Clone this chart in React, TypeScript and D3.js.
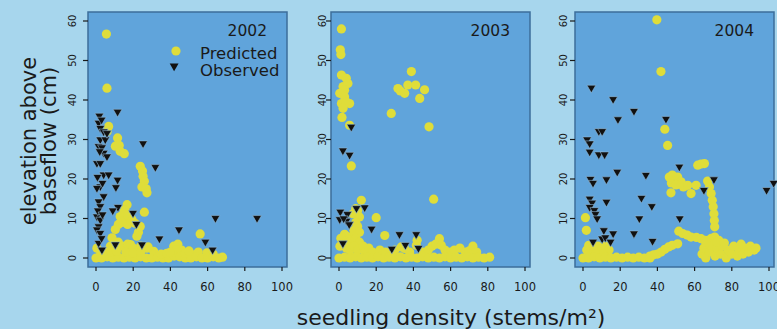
import React from "react";
import * as d3 from "d3";

type P = [number, number];

const W = 777;
const H = 329;

const years = ["2002", "2003", "2004"];
const xTicks = [0, 20, 40, 60, 80, 100];
const yTicks = [0, 10, 20, 30, 40, 50, 60];
const legendLabels = ["Predicted", "Observed"];
const xTitle = "seedling density (stems/m²)";
const yTitle = ["elevation above", "baseflow (cm)"];

const pred2002: P[] = [
  [5.6, 56.7], [5.9, 43], [6.8, 33.3], [6, 32],
  [11.6, 30.4], [10.4, 28.3], [12.5, 28.5], [13, 27], [15.2, 26.4],
  [23.8, 23.2], [25, 22], [25.3, 20.7], [26, 19.4], [24.7, 18], [27, 17.5], [27.4, 16.5],
  [26, 11.6],
  [16.7, 13.5], [15.5, 12.2], [13, 10.5], [15, 11.5], [17, 10.5], [19.4, 9.7], [17, 8.5], [21, 8.8],
  [23.8, 8], [22.8, 6.5], [22, 5.5], [14, 9], [12, 8.5], [10.4, 7.2], [8.6, 5.1], [7.7, 3], [10, 4],
  [12, 4], [14, 3], [17, 3.5], [18.5, 3.4], [20, 2.5], [24, 3], [27.4, 2.5], [31, 1.7], [28, 2.8],
  [0.5, 2.5], [2.5, 1], [5, 1.5],
  [56, 6.1], [41.8, 3], [44, 3.5], [46, 2], [43, 2], [52, 0.8], [55, 1.5], [59.7, 1.3], [63, 1],
  [0, 0], [3, 0], [6, 0.3], [9, 0], [12, 0.2], [15, 0], [18, 0.2], [21, 0], [24, 0.3], [27, 0],
  [30, 0], [33, 0.2], [36, 0], [39, 0], [42, 0.5], [45, 0.3], [48, 0], [51, 0], [54, 0.3], [57, 0],
  [60, 0], [63, 0.3], [66, 0], [68, 0.2],
  [8, 1.5], [11, 1.8], [16, 1.5], [20, 1.2], [24, 1.5], [35, 1], [38, 1.2], [40, 1.5], [48, 1.2], [50, 1.8],
];

const obs2002: P[] = [
  [1.8, 36], [1.4, 34.2], [2.3, 32.9], [4.1, 32], [2.3, 30], [5, 30], [1.4, 28.3], [4.1, 26.6],
  [5.9, 25.7], [0.5, 24], [2.3, 24], [4.1, 21.1], [6.8, 21.1], [2.3, 18.1], [0.5, 17.7], [4.1, 15.6],
  [1.4, 14.3], [2.3, 13.1], [0.5, 10.5], [2.3, 9.7], [1.4, 8], [0.5, 7.2], [2.3, 6.3], [1.4, 3.8],
  [3.2, 2.1], [3.2, 28], [0.8, 20.5], [3.5, 19], [1, 12], [3.5, 11], [3, 5], [2, 27], [3, 35],
  [11.6, 37], [5.9, 31.6], [25.3, 29], [31.9, 23], [11.6, 19.8], [10.7, 17.9], [11.8, 12.9], [9, 12],
  [19.9, 11.4], [21.7, 8.6], [44.6, 7.2], [34.1, 4.9], [58.8, 4.1], [62.7, 2.1], [64.2, 10.1],
  [86.6, 10.1], [10.4, 3.4], [24.7, 3.4],
];

const pred2003: P[] = [
  [1.3, 58], [0.7, 52.7], [1, 51.5], [1.3, 46.3], [3.9, 45.5], [2.2, 43.4], [4.8, 44.2], [3, 42.5],
  [0.4, 41.7], [3, 40.8], [1.3, 39.1], [5.7, 39.1], [4, 39.5], [2.2, 37.9], [1.6, 35.6], [5.7, 33.6],
  [6.6, 23.3],
  [38.9, 47.2], [31.7, 42.9], [33, 42.3], [35.3, 41.7], [37, 43.8], [41.2, 43.8], [46, 42.6], [43.4, 40.4],
  [28.1, 36.6], [48.4, 33.2], [50.9, 14.9],
  [12, 14.6], [9, 12.5], [7.5, 11.2], [11, 10.4], [10, 12], [9, 9], [10, 8], [8, 7], [11, 6.5], [7, 5.5],
  [9, 5], [11, 4], [6, 4], [4, 5.5], [3, 6], [1, 5], [0.5, 3], [2, 3.5], [4, 2.5], [6, 2], [8, 3], [10, 2],
  [13, 3], [14, 1.5], [16, 2.5], [18, 1.5], [20, 10.2], [24.6, 5.7], [22, 2], [25, 1.5], [28, 1.5], [30, 2],
  [33.5, 2.8], [35.3, 2.4], [38, 1.5], [41.6, 3.2], [42, 4.5], [45, 1.5], [48, 2], [50, 3], [52, 3.5],
  [54, 4.9], [55, 3.2], [57, 2], [60, 1.5], [62, 2], [65, 2.5], [68, 1.5], [70, 1.8], [72, 3], [74, 1.5],
  [0, 0], [3, 0.2], [6, 0], [9, 0.3], [12, 0], [15, 0.2], [18, 0], [21, 0.3], [24, 0], [27, 0.2], [30, 0],
  [33, 0.3], [36, 0], [39, 0.2], [42, 0], [45, 0.3], [48, 0], [51, 0.2], [54, 0], [57, 0.3], [60, 0],
  [63, 0.2], [66, 0], [69, 0.3], [72, 0], [75, 0.2], [78, 0], [81, 0.2],
];

const obs2003: P[] = [
  [2.1, 27.2], [5.7, 26.1], [6.6, 33.2], [0.7, 11.7], [4.5, 11.1], [0.4, 9.8], [4, 9.4], [2.5, 10],
  [13.8, 12.8], [17.5, 7.4], [32.5, 6], [41.5, 6], [28.4, 2.3], [35.7, 3.3], [42.7, 2.5], [2.1, 3.7],
  [5.5, 8.5], [9.4, 12.6],
];

const pred2004: P[] = [
  [39.7, 60.3], [41.9, 47.2], [44, 32.6], [45.5, 28.5],
  [47.3, 16.5], [46.4, 20.5], [48, 21], [47.5, 19], [50.9, 20.5], [52.7, 19.3], [50, 18.5], [54, 18],
  [56.3, 18.4], [58.1, 16.3], [60.8, 18.4], [61.7, 23.5], [63.5, 23.8], [65.3, 23.9], [67, 19.5], [68, 18],
  [68.9, 16.3], [69.5, 14.6], [70, 13], [70.4, 11.2], [70.6, 9.5], [70.8, 7.9],
  [1.3, 10.2], [1.8, 7], [3.1, 3.2],
  [51.5, 6.8], [53.6, 6.2], [56, 5.8], [58.1, 5.3], [61, 5.2], [63.5, 4.9], [65.5, 4.5], [67.1, 4.5],
  [69, 5], [70.8, 5.3], [73, 4.5],
  [36, 0.5], [38, 0.8], [40, 1], [42, 1.5], [44, 2.2], [46, 2.8], [48, 3.2], [50.9, 3.6],
  [2, 2], [4, 3], [6, 2.5], [8, 3], [10, 2.5], [12, 3], [14, 2], [3, 1], [7, 1], [11, 1],
  [0, 0], [3, 0], [6, 0.3], [9, 0], [12, 0.2], [15, 0], [18, 0.2], [21, 0], [24, 0.2], [27, 0], [30, 0.2],
  [33, 0], [36, 0],
  [64, 1], [65, 2.5], [66, 0], [68, 1.5], [69, 3], [71, 0.5], [72, 2.5], [74, 1], [75, 3], [77, 0], [78, 2],
  [80, 1], [81, 3], [83, 0.5], [84, 2], [86, 1], [87, 2.5], [89, 1.5], [90, 3], [92, 2], [93, 2.5], [72, 4],
  [76, 3.8], [66, 4], [85, 3.5],
];

const obs2004: P[] = [
  [4.5, 43.1], [16.2, 40.2], [27.4, 37.2], [18.8, 35.1], [44.6, 35.2], [8.5, 32.1], [10.3, 32.1],
  [2.2, 30], [3.6, 29], [3.6, 26.9], [8.5, 26.2], [11.6, 26.2], [18.4, 21.8], [33.8, 21], [4, 20],
  [5.4, 19], [12.6, 19.9], [51.8, 23.1], [70.4, 19.9], [65, 17.2], [98.7, 17.2], [102.5, 19],
  [3.6, 15], [4.9, 14], [12.6, 14.2], [3.6, 12.9], [6.1, 12.1], [6.7, 11.1], [7.6, 10], [31.4, 15.2],
  [37, 13.1], [30.3, 10], [52, 10], [11.2, 7], [16.2, 6.2], [27.4, 6.2], [10.3, 4.9], [12, 5.2],
  [14.8, 4.1], [5.4, 4.1], [37.4, 4.3],
];

const predicted = [pred2002, pred2003, pred2004];
const observed = [obs2002, obs2003, obs2004];

// layout
const panelLeft = [88, 331, 575];
const yLabelX = [72, 322, 563];
const boxW = 199;
const boxTop = 12;
const boxBottom = 267;

const BG = "#a7d6ed";
const PANEL = "#60a4db";
const BORDER = "#3c6e9a";
const YELLOW = "#dfdd3a";
const INK = "#1a1a1a";
const FONT = "'DejaVu Sans', sans-serif";

const tri = d3.symbol().type(d3.symbolTriangle).size(34)() as string;

function Panel({ i }: { i: number }) {
  const left = panelLeft[i];
  const x = d3.scaleLinear().domain([0, 100]).range([left + 8, left + 194]);
  const y = d3.scaleLinear().domain([0, 60]).range([258, 21]);
  return (
    <g>
      <rect x={left} y={boxTop} width={boxW} height={boxBottom - boxTop} fill={PANEL} stroke={BORDER} strokeWidth={1.5} />
      {xTicks.map((t) => (
        <g key={"xt" + t}>
          <line x1={x(t)} x2={x(t)} y1={boxBottom} y2={boxBottom + 4} stroke={INK} strokeWidth={1.2} />
          <text x={x(t)} y={291} textAnchor="middle" fontSize={11.5} fontFamily={FONT} fill={INK}>{t}</text>
        </g>
      ))}
      {yTicks.map((t) => (
        <g key={"yt" + t}>
          <line x1={left - 5} x2={left} y1={y(t)} y2={y(t)} stroke={INK} strokeWidth={1.2} />
          <text transform={`translate(${yLabelX[i] + 4},${y(t)}) rotate(-90)`} textAnchor="middle" fontSize={10} fontFamily={FONT} fill={INK}>{t}</text>
        </g>
      ))}
      {predicted[i].map((d, k) => (
        <circle key={"p" + k} cx={x(d[0])} cy={y(d[1])} r={4.6} fill={YELLOW} />
      ))}
      {observed[i].map((d, k) => (
        <path key={"o" + k} d={tri} transform={`translate(${x(d[0])},${y(d[1])}) rotate(180)`} fill="#111" stroke="#8fb9d8" strokeWidth={0.6} />
      ))}
      <text x={left + boxW - 20} y={35.5} textAnchor="end" fontSize={15.5} fontFamily={FONT} fill={INK}>{years[i]}</text>
      {i === 0 && (
        <g>
          <circle cx={x(43)} cy={y(52.4)} r={4.6} fill={YELLOW} />
          <path d={tri} transform={`translate(${x(42)},${y(48.6)}) rotate(180)`} fill="#111" />
          <text x={200} y={58.5} fontSize={16.5} fontFamily={FONT} fill={INK}>{legendLabels[0]}</text>
          <text x={200} y={75.5} fontSize={16.5} fontFamily={FONT} fill={INK}>{legendLabels[1]}</text>
        </g>
      )}
    </g>
  );
}

export default function App() {
  return (
    <svg width={W} height={H} style={{ position: "absolute", left: 0, top: 0 }}>
      <rect x={0} y={0} width={W} height={H} fill={BG} />
      {years.map((_, i) => (
        <Panel key={i} i={i} />
      ))}
      <text transform="translate(36,141) rotate(-90)" textAnchor="middle" fontSize={21} fontFamily={FONT} fill={INK}>{yTitle[0]}</text>
      <text transform="translate(56,141) rotate(-90)" textAnchor="middle" fontSize={21} fontFamily={FONT} fill={INK}>{yTitle[1]}</text>
      <text x={451} y={325} textAnchor="middle" fontSize={22} fontFamily={FONT} fill={INK}>{xTitle}</text>
    </svg>
  );
}
